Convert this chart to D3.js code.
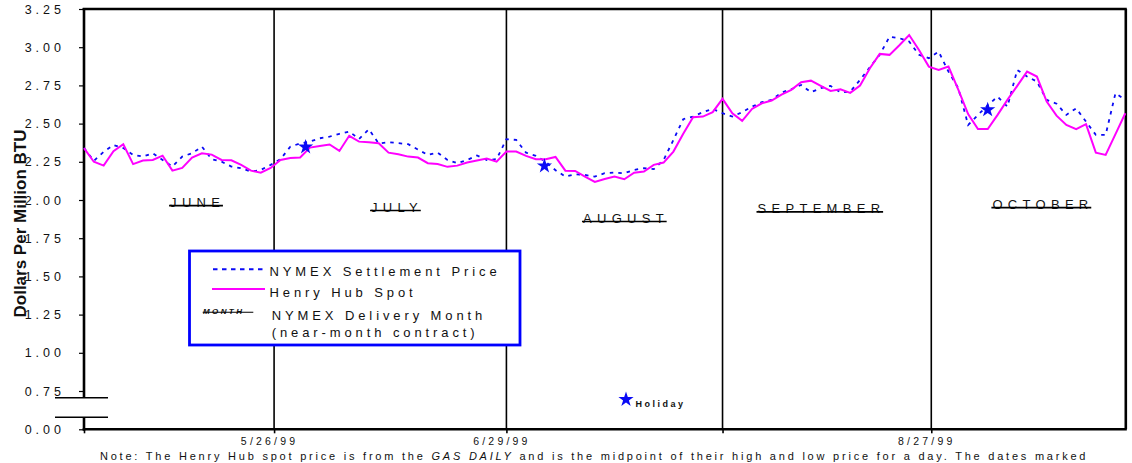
<!DOCTYPE html>
<html><head><meta charset="utf-8">
<script src="https://cdn.jsdelivr.net/npm/d3@7"></script>
<style>
body{margin:0;background:#fff}
svg{display:block}
text{font-family:"Liberation Sans",Arial,Helvetica,sans-serif;fill:#111}
</style>
</head><body>
<svg id="chart" width="1132" height="463"></svg>
<script>
// ---- data (trading-day index 0..106, late April to late September 1999) ----
const henryHub = [2.34,2.25,2.225,2.32,2.365,2.235,2.258,2.262,2.29,2.192,
  2.21,2.278,2.306,2.297,2.262,2.26,2.23,2.192,2.179,2.21,
  2.262,2.275,2.278,2.343,2.354,2.363,2.321,2.42,2.382,2.378,
  2.372,2.31,2.30,2.284,2.278,2.241,2.236,2.217,2.225,2.245,
  2.258,2.271,2.251,2.317,2.317,2.289,2.267,2.267,2.282,2.192,
  2.19,2.153,2.118,2.137,2.153,2.136,2.179,2.186,2.23,2.245,
  2.317,2.433,2.542,2.546,2.575,2.662,2.568,2.518,2.596,2.633,
  2.651,2.69,2.721,2.771,2.781,2.747,2.714,2.725,2.701,2.749,
  2.862,2.956,2.95,3.013,3.08,2.982,2.873,2.851,2.873,2.723,
  2.562,2.465,2.465,2.557,2.655,2.747,2.84,2.808,2.644,2.552,
  2.491,2.463,2.496,2.31,2.295,2.431,2.568];
const nymexSettle = [2.34,2.256,2.315,2.36,2.34,2.295,2.284,2.306,2.262,2.219,
  2.284,2.306,2.349,2.267,2.251,2.219,2.208,2.186,2.197,2.23,
  2.267,2.349,2.37,2.382,2.404,2.415,2.433,2.448,2.40,2.463,
  2.37,2.378,2.372,2.365,2.33,2.295,2.31,2.262,2.241,2.262,
  2.291,2.262,2.267,2.398,2.393,2.31,2.289,2.25,2.195,2.153,
  2.169,2.164,2.153,2.175,2.18,2.175,2.197,2.208,2.202,2.262,
  2.393,2.529,2.546,2.575,2.596,2.568,2.546,2.575,2.611,2.64,
  2.655,2.703,2.725,2.753,2.705,2.732,2.747,2.705,2.709,2.786,
  2.87,2.95,3.069,3.059,3.037,2.95,2.928,2.971,2.84,2.732,
  2.491,2.557,2.62,2.677,2.611,2.851,2.808,2.775,2.655,2.63,
  2.557,2.60,2.513,2.426,2.426,2.699,2.655];

const yTickValues = [0,0.75,1.0,1.25,1.5,1.75,2.0,2.25,2.5,2.75,3.0,3.25];
const yTickLabels = ["0.00","0.75","1.00","1.25","1.50","1.75","2.00","2.25","2.50","2.75","3.00","3.25"];

const dateTickIndex  = [0, 19.35, 43, 65, 86.25];
const dateTickLabels = ["", "5/26/99", "6/29/99", "", "8/27/99"];
const contractBoundaryIndex = [19.35, 43, 65, 86.25];

const deliveryMonths  = ["JUNE","JULY","AUGUST","SEPTEMBER","OCTOBER"];
const monthLabelIndex = [11.3, 31.6, 54.9, 74.8, 97.35];
const monthLabelValue = [1.963, 1.931, 1.859, 1.922, 1.950];

const holidayIndex = [22.56, 46.87, 91.99];
const holidayValue = [2.347, 2.223, 2.590];

const seriesNames = ["NYMEX Settlement Price","Henry Hub Spot"];
const yTitle = "Dollars Per Million BTU";

// ---- drawing ----
const svg = d3.select("#chart");
svg.append("rect").attr("width",1132).attr("height",463).attr("fill","#fff");

const L = 84, R = 1125.3, T = 9, B = 429.3;
const x = d3.scaleLinear().domain([0, henryHub.length - 1]).range([L, R]);
const y = d3.scaleLinear().domain([0, 0.75, 3.25]).range([B, 391, T]);

const BLUE = "#0a0af5", MAG = "#ff00ff";

// month contract boundaries
svg.append("g").selectAll("line").data(contractBoundaryIndex).join("line")
  .attr("x1", d => x(d)).attr("x2", d => x(d))
  .attr("y1", T).attr("y2", B)
  .attr("stroke", "#000").attr("stroke-width", 1.6);

// y axis ticks + labels
const yAxis = d3.axisLeft(y).tickValues(yTickValues)
  .tickFormat((d,i) => yTickLabels[i]).tickSize(5).tickPadding(14);
const gy = svg.append("g").attr("transform", `translate(${L},0)`).call(yAxis);
gy.select(".domain").remove();
gy.selectAll(".tick line").attr("stroke","#000").attr("stroke-width",1.2);
gy.selectAll(".tick text").attr("font-size", 12.5).attr("letter-spacing", "4px")
  .attr("font-family", "Liberation Sans, Arial, sans-serif").attr("fill","#111");

// x axis ticks + labels
const xAxis = d3.axisBottom(x).tickValues(dateTickIndex)
  .tickFormat((d,i) => dateTickLabels[i]).tickSize(4).tickPadding(4);
const gx = svg.append("g").attr("transform", `translate(0,${B})`).call(xAxis);
gx.select(".domain").remove();
gx.selectAll(".tick line").attr("stroke","#000").attr("stroke-width",1.6);
gx.selectAll(".tick text").attr("font-size", 10.5).attr("letter-spacing", "3.2px")
  .attr("font-family", "Liberation Sans, Arial, sans-serif").attr("fill","#111")
  .attr("dx", "-5");

// frame: y axis with break, x axis, top, right
const frame = svg.append("g").attr("stroke","#000").attr("fill","none");
frame.append("line").attr("x1",L).attr("x2",L).attr("y1",T-1).attr("y2",398).attr("stroke-width",2.6);
frame.append("line").attr("x1",L).attr("x2",L).attr("y1",417.3).attr("y2",B+1.3).attr("stroke-width",2.6);
frame.append("line").attr("x1",55).attr("x2",108).attr("y1",397.7).attr("y2",397.7).attr("stroke-width",1.6);
frame.append("line").attr("x1",55).attr("x2",108).attr("y1",417.3).attr("y2",417.3).attr("stroke-width",1.6);
frame.append("line").attr("x1",L-1.3).attr("x2",R+1.5).attr("y1",B).attr("y2",B).attr("stroke-width",2.6);
frame.append("line").attr("x1",L-1.3).attr("x2",R+1.5).attr("y1",T).attr("y2",T).attr("stroke-width",2.6);
frame.append("line").attr("x1",R+0.5).attr("x2",R+0.5).attr("y1",T).attr("y2",B).attr("stroke-width",2.6);

// series
const line = d3.line().x((d,i) => x(i)).y(d => y(d));
svg.append("path").datum(nymexSettle).attr("d", line)
  .attr("fill","none").attr("stroke",BLUE).attr("stroke-width",1.8)
  .attr("stroke-dasharray","3.5,5");
svg.append("path").datum(henryHub).attr("d", line)
  .attr("fill","none").attr("stroke",MAG).attr("stroke-width",2);

// delivery month labels with strike line
const mg = svg.append("g");
deliveryMonths.forEach((m,i) => {
  const cx = x(monthLabelIndex[i]), ly = y(monthLabelValue[i]);
  const t = mg.append("text").attr("x", cx).attr("y", ly + 1.2)
    .attr("font-size", 13).attr("letter-spacing","5.3px").attr("fill","#111").text(m);
  const w = t.node().getComputedTextLength() - 5.3;
  t.attr("x", cx - w/2);
  mg.append("line").attr("x1", cx - w/2 - 1).attr("x2", cx + w/2 + 3)
    .attr("y1", ly).attr("y2", ly).attr("stroke","#000").attr("stroke-width",1.6);
});

// holiday stars
const star = d3.symbol(d3.symbolStar).size(72);
svg.append("g").selectAll("path").data(holidayIndex).join("path")
  .attr("d", star).attr("fill", BLUE)
  .attr("transform", (d,i) => `translate(${x(d)},${y(holidayValue[i])})`);

// legend
const lg = svg.append("g");
lg.append("rect").attr("x",189.5).attr("y",251).attr("width",330.5).attr("height",94)
  .attr("fill","#fff").attr("stroke","#0000ff").attr("stroke-width",2.8);
lg.append("line").attr("x1",213).attr("x2",267).attr("y1",269.3).attr("y2",269.3)
  .attr("stroke",BLUE).attr("stroke-width",2).attr("stroke-dasharray","4.5,4.5");
lg.append("line").attr("x1",212).attr("x2",265).attr("y1",289).attr("y2",289)
  .attr("stroke",MAG).attr("stroke-width",2);
const legText = (tx, ty, s) => lg.append("text").attr("x",tx).attr("y",ty)
  .attr("font-size",13).attr("letter-spacing","3.9px").text(s);
legText(269.5, 276, seriesNames[0]);
legText(269.5, 296.7, seriesNames[1]);
legText(271.7, 320, "NYMEX Delivery Month");
legText(271.7, 337.3, "(near-month contract)");
lg.append("text").attr("x",203).attr("y",314).attr("font-size",8)
  .attr("font-weight","bold").attr("font-style","italic").attr("letter-spacing","2.4px").text("MONTH");
lg.append("line").attr("x1",202.7).attr("x2",253.3).attr("y1",312.3).attr("y2",312.3)
  .attr("stroke","#000").attr("stroke-width",1.1);

// holiday legend
svg.append("path").attr("d", star).attr("fill", BLUE).attr("transform","translate(626,399.5)");
svg.append("text").attr("x",635.4).attr("y",406.5).attr("font-size",9).attr("font-weight","bold")
  .attr("letter-spacing","2.5px").text("Holiday");

// y title
svg.append("text").attr("transform","translate(26,223.5) rotate(-90)")
  .attr("text-anchor","middle").attr("font-size",17).attr("font-weight","bold").text(yTitle);

// note
const note = svg.append("text").attr("x",100).attr("y",460).attr("font-size",11).attr("letter-spacing","2.78px");
note.append("tspan").text("Note: The Henry Hub spot price is from the ");
note.append("tspan").attr("font-style","italic").text("GAS DAILY");
note.append("tspan").text(" and is the midpoint of their high and low price for a day. The dates marked");
</script>
</body></html>
